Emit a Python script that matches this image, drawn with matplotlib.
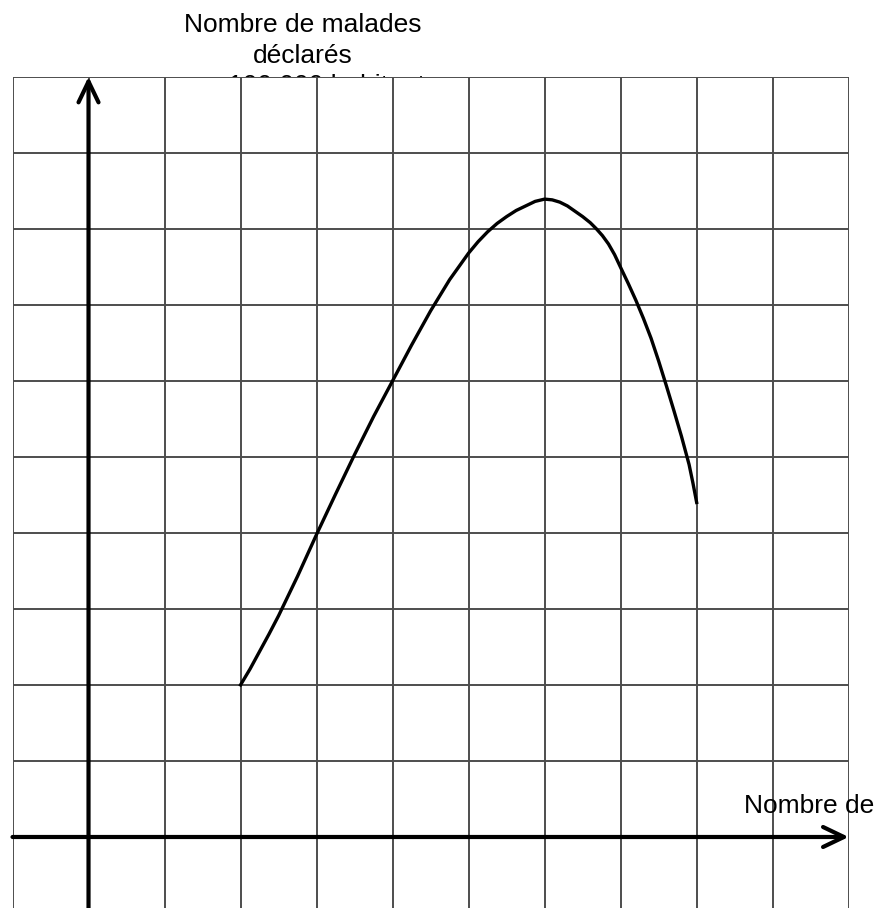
import matplotlib
matplotlib.use("Agg")
import matplotlib.pyplot as plt

# curve (1 unit = 1 square)
weeks = [2.0, 2.125, 2.25, 2.375, 2.5, 2.75, 3.0, 3.25, 3.5, 3.75, 4.0, 4.25, 4.5,
         4.75, 5.0, 5.125, 5.25, 5.375, 5.5, 5.625, 5.75, 5.875, 6.0, 6.1, 6.2, 6.3,
         6.4, 6.5, 6.6, 6.68, 6.76, 6.84, 6.92, 7.0, 7.1, 7.2, 7.3, 7.4, 7.5, 7.6,
         7.7, 7.8, 7.9, 7.95, 8.0]
cases = [2.0, 2.21, 2.44, 2.67, 2.91, 3.43, 3.98, 4.51, 5.03, 5.53, 6.0, 6.47, 6.92,
         7.33, 7.68, 7.83, 7.96, 8.07, 8.16, 8.24, 8.3, 8.36, 8.39, 8.38, 8.35, 8.3,
         8.23, 8.16, 8.08, 8.0, 7.91, 7.8, 7.66, 7.49, 7.28, 7.06, 6.82, 6.56, 6.26,
         5.94, 5.61, 5.27, 4.9, 4.66, 4.4]

x_grid = list(range(-1, 11))
y_grid = list(range(1, 11))

y_title = "Nombre de malades\ndéclarés\npour 100 000 habitants"
x_title = "Nombre de"

W, H = 881, 908
plt.rcParams["font.family"] = ["Liberation Sans", "DejaVu Sans"]

fig = plt.figure(figsize=(W / 100, H / 100), dpi=100)
ax = fig.add_axes([12.5 / W, 0, 836.2 / W, (H - 76.7) / H])
ax.set_xlim(-1, 10)
ax.set_ylim(-(H - 837) / 76.02, 10)

grid_kw = dict(color="#4d4d4d", lw=1.4, zorder=1)
for gx in x_grid:
    ax.axvline(gx, **grid_kw)
for gy in y_grid:
    ax.axhline(gy, **grid_kw)
for s in ax.spines.values():
    s.set_visible(False)
ax.set_xticks([])
ax.set_yticks([])

arrow = dict(arrowstyle="->,head_length=0.75,head_width=0.36", lw=3, color="black",
             shrinkA=0, shrinkB=0, mutation_scale=20)
ax.annotate("", xy=(0, 10), xytext=(0, ax.get_ylim()[0]), arrowprops=arrow, zorder=3)
ax.annotate("", xy=(10, 0), xytext=(-1, 0), arrowprops=arrow, zorder=3)

ax.plot(weeks, cases, color="black", lw=2.4, solid_joinstyle="round", zorder=4)

# title sits under the grid, so its third line is hidden by the axes background
fig.text(303 / W, 1 - 93 / H, y_title, ha="center", va="baseline", fontsize=19,
         linespacing=1.33, zorder=-1)
fig.text(744 / W, 1 - 813 / H, x_title, ha="left", va="baseline", fontsize=19)

fig.savefig("out.png", dpi=100)
